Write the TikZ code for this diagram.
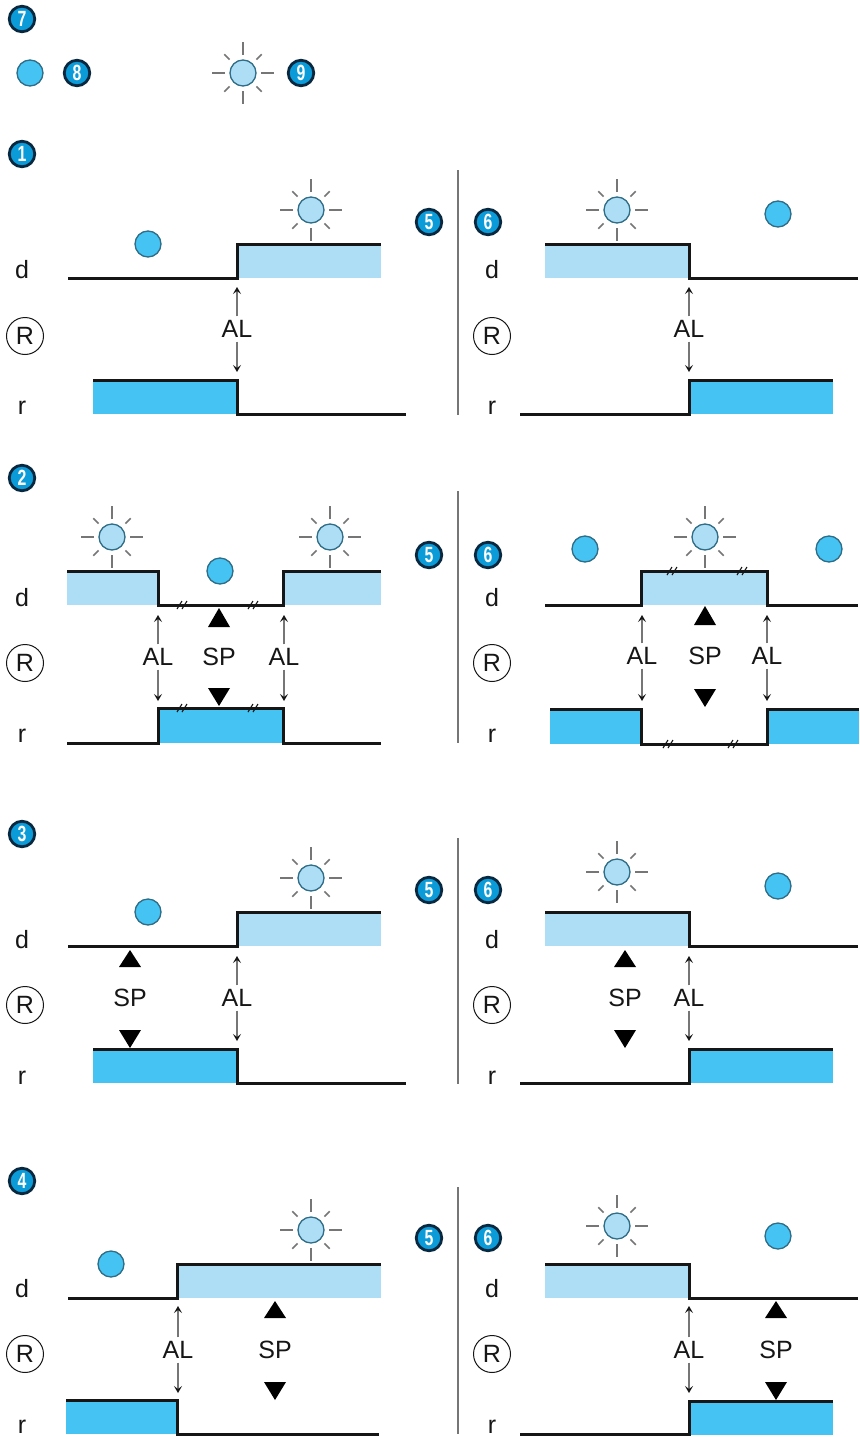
\documentclass[tikz,border=0pt]{standalone}
\usepackage{fontspec}
\usepackage{graphicx}
\setmainfont{Liberation Sans}
\usetikzlibrary{arrows.meta}
\definecolor{deep}{HTML}{45C3F2}
\definecolor{pale}{HTML}{ADDEF6}
\definecolor{navy}{HTML}{08283F}
\definecolor{badgeblue}{HTML}{0A9BD8}
\definecolor{rim}{HTML}{2F6C86}
\definecolor{raygrey}{HTML}{767676}
\definecolor{ink}{HTML}{161616}
\tikzset{
  badge/.style={circle,draw=navy,line width=2.8pt,fill=badgeblue,minimum size=25.5pt,inner sep=0pt,text=white,font=\fontsize{22}{22}\selectfont\bfseries},
  ballnode/.style={circle,draw=rim,line width=1.3pt,fill=deep,minimum size=26pt,inner sep=0pt},
  sunnode/.style={circle,draw=rim,line width=1.3pt,fill=pale,minimum size=26pt,inner sep=0pt},
  ray/.style={draw=raygrey,line width=1.5pt},
  lab/.style={inner sep=0pt,outer sep=4pt,text=ink,font=\fontsize{25}{25}\selectfont},
  rowlab/.style={inner sep=0pt,text=ink,font=\fontsize{25}{25}\selectfont},
  ringed/.style={circle,draw=ink,line width=1pt,minimum size=37pt,inner sep=0pt,text=ink,font=\fontsize{25}{25}\selectfont},
  wave/.style={draw=ink,line width=3pt,line join=miter},
  lightfill/.style={fill=pale},
  deepfill/.style={fill=deep},
  divider/.style={draw=raygrey,line width=1.5pt},
  thin arrow/.style={draw=raygrey,line width=1.1pt,-{Stealth[length=7pt,width=8pt,inset=3pt,color=ink]}},
  tick mark/.style={draw=ink,line width=1.1pt},
  solid tri/.style={fill=black},
}
\newcommand{\mybadge}[4]{\node[badge] (#1) at (#2,#3) {\scalebox{0.72}[1]{#4}};}
\newcommand{\myball}[3]{\node[ballnode] (#1) at (#2,#3) {};}
\newcommand{\mysun}[3]{%
  \node[sunnode] (#1) at (#2,#3) {};
  \foreach \a in {0,90,180,270}{\draw[ray] (#2,#3) ++(\a:18) -- ++(\a:13);}
  \foreach \a in {45,135,225,315}{\draw[ray] (#2,#3) ++(\a:19) -- ++(\a:7.5);}
}
\newcommand{\myrows}[7]{% name xd xR yd yR yr
  \node[rowlab] (#1d) at (#2,#4) {d};
  \node[ringed] (#1R) at (#3,#5) {R};
  \node[rowlab] (#1r) at (#2,#6+3) {r};
}
\newcommand{\myal}[5]{% name x y top bottom
  \node[lab] (#1) at (#2,#3) {AL};
  \coordinate (#1t) at (#2,#4);
  \coordinate (#1b) at (#2,#5);
  \draw[thin arrow] (#1.north) -- (#1t);
  \draw[thin arrow] (#1.south) -- (#1b);
}
\newcommand{\mysp}[6]{% name x y upper-apex upper-base lower-base
  \node[lab] (#1) at (#2,#3) {SP};
  \fill[solid tri] (#2,#4) -- (#2-11,#5) -- (#2+11,#5) -- cycle;
  \fill[solid tri] (#2,#6+18) -- (#2-11,#6) -- (#2+11,#6) -- cycle;
}
\newcommand{\myticks}[2]{%
  \draw[tick mark] (#1-5,#2+4) -- (#1,#2-4);
  \draw[tick mark] (#1,#2+4) -- (#1+5,#2-4);
}
\begin{document}
\begin{tikzpicture}[x=1pt,y=-1pt]
\useasboundingbox (0,0) rectangle (859,1437);
\fill[white] (0,0) rectangle (859,1437);
% legend
\mybadge{b7}{22}{19}{7}
\myball{legball}{30}{73}
\mybadge{b8}{77}{73}{8}
\mysun{legsun}{243}{73}
\mybadge{b9}{301}{73}{9}
% ---------- panel 1
\mybadge{b1}{22}{154}{1}
\mybadge{b5a}{429}{222}{5}
\mybadge{b6a}{488}{222}{6}
\coordinate (v1t) at (458,170); \coordinate (v1b) at (458,415);
\draw[divider] (v1t) -- (v1b);
\myrows{La}{22}{25}{270}{336}{405}{}
\myrows{Ra}{492}{492}{270}{336}{405}{}
\fill[lightfill] (237,244) rectangle (381,278);
\draw[wave] (68,278) -- (237,278) -- (237,244) -- (381,244);
\fill[deepfill] (93,380) rectangle (237,414);
\draw[wave] (93,380) -- (237,380) -- (237,414) -- (406,414);
\mysun{s1}{311}{210}
\myball{c1}{148}{244}
\myal{al1}{237}{329}{287}{372}
\fill[lightfill] (545,244) rectangle (689,278);
\draw[wave] (545,244) -- (689,244) -- (689,278) -- (858,278);
\fill[deepfill] (689,380) rectangle (833,414);
\draw[wave] (520,414) -- (689,414) -- (689,380) -- (833,380);
\mysun{s2}{617}{210}
\myball{c2}{778}{214}
\myal{al2}{689}{329}{287}{372}
% ---------- panel 2
\mybadge{b2}{22}{478}{2}
\mybadge{b5b}{429}{555}{5}
\mybadge{b6b}{488}{555}{6}
\coordinate (v2t) at (458,491); \coordinate (v2b) at (458,743);
\draw[divider] (v2t) -- (v2b);
\myrows{Lb}{22}{25}{598}{663}{733}{}
\myrows{Rb}{492}{492}{598}{663}{733}{}
\fill[lightfill] (67,571) rectangle (158,605);
\fill[lightfill] (283,571) rectangle (381,605);
\draw[wave] (67,571) -- (158,571) -- (158,605) -- (283,605) -- (283,571) -- (381,571);
\fill[deepfill] (158,708) rectangle (283,743);
\draw[wave] (67,743) -- (158,743) -- (158,708) -- (283,708) -- (283,743) -- (381,743);
\myticks{182}{605}\myticks{253}{605}\myticks{182}{708}\myticks{253}{708}
\mysun{s3}{112}{537}
\mysun{s4}{330}{537}
\myball{c3}{220}{571}
\myal{al3}{158}{657}{615}{701}
\myal{al4}{284}{657}{615}{701}
\mysp{sp1}{219}{657}{608}{627}{688}
\fill[lightfill] (641,571) rectangle (767,605);
\draw[wave] (545,605) -- (641,605) -- (641,571) -- (767,571) -- (767,605) -- (858,605);
\fill[deepfill] (550,709) rectangle (641,744);
\fill[deepfill] (767,709) rectangle (859,744);
\draw[wave] (550,709) -- (641,709) -- (641,744) -- (767,744) -- (767,709) -- (859,709);
\myticks{672}{571}\myticks{742}{571}\myticks{668}{744}\myticks{733}{744}
\mysun{s5}{705}{537}
\myball{c4}{585}{549}
\myball{c5}{829}{549}
\myal{al5}{642}{656}{615}{701}
\myal{al6}{767}{656}{615}{701}
\mysp{sp2}{705}{656}{606}{625}{689}
% ---------- panel 3
\mybadge{b3}{22}{834}{3}
\mybadge{b5c}{429}{890}{5}
\mybadge{b6c}{488}{890}{6}
\coordinate (v3t) at (458,838); \coordinate (v3b) at (458,1084);
\draw[divider] (v3t) -- (v3b);
\myrows{Lc}{22}{25}{940}{1005}{1075}{}
\myrows{Rc}{492}{492}{940}{1005}{1075}{}
\fill[lightfill] (237,912) rectangle (381,946);
\draw[wave] (68,946) -- (237,946) -- (237,912) -- (381,912);
\fill[deepfill] (93,1049) rectangle (237,1083);
\draw[wave] (93,1049) -- (237,1049) -- (237,1083) -- (406,1083);
\mysun{s6}{311}{878}
\myball{c6}{148}{912}
\myal{al7}{237}{998}{956}{1041}
\mysp{sp3}{130}{998}{950}{967}{1030}
\fill[lightfill] (545,912) rectangle (689,946);
\draw[wave] (545,912) -- (689,912) -- (689,946) -- (858,946);
\fill[deepfill] (689,1049) rectangle (833,1083);
\draw[wave] (520,1083) -- (689,1083) -- (689,1049) -- (833,1049);
\mysun{s7}{617}{872}
\myball{c7}{778}{886}
\myal{al8}{689}{998}{956}{1041}
\mysp{sp4}{625}{998}{950}{967}{1030}
% ---------- panel 4
\mybadge{b4}{22}{1181}{4}
\mybadge{b5d}{429}{1238}{5}
\mybadge{b6d}{488}{1238}{6}
\coordinate (v4t) at (458,1187); \coordinate (v4b) at (458,1434);
\draw[divider] (v4t) -- (v4b);
\myrows{Ld}{22}{25}{1289}{1354}{1424}{}
\myrows{Rd}{492}{492}{1289}{1354}{1424}{}
\fill[lightfill] (177,1264) rectangle (381,1298);
\draw[wave] (68,1298) -- (177,1298) -- (177,1264) -- (381,1264);
\fill[deepfill] (66,1400) rectangle (177,1434);
\draw[wave] (66,1400) -- (177,1400) -- (177,1434) -- (379,1434);
\mysun{s8}{311}{1230}
\myball{c8}{111}{1264}
\myal{al9}{178}{1350}{1306}{1393}
\mysp{sp5}{275}{1350}{1301}{1318}{1382}
\fill[lightfill] (545,1264) rectangle (689,1298);
\draw[wave] (545,1264) -- (689,1264) -- (689,1298) -- (858,1298);
\fill[deepfill] (689,1401) rectangle (833,1435);
\draw[wave] (520,1434) -- (689,1434) -- (689,1401) -- (833,1401);
\mysun{s9}{617}{1226}
\myball{c9}{778}{1236}
\myal{al10}{689}{1350}{1306}{1393}
\mysp{sp6}{776}{1350}{1301}{1318}{1382}
\end{tikzpicture}
\end{document}
